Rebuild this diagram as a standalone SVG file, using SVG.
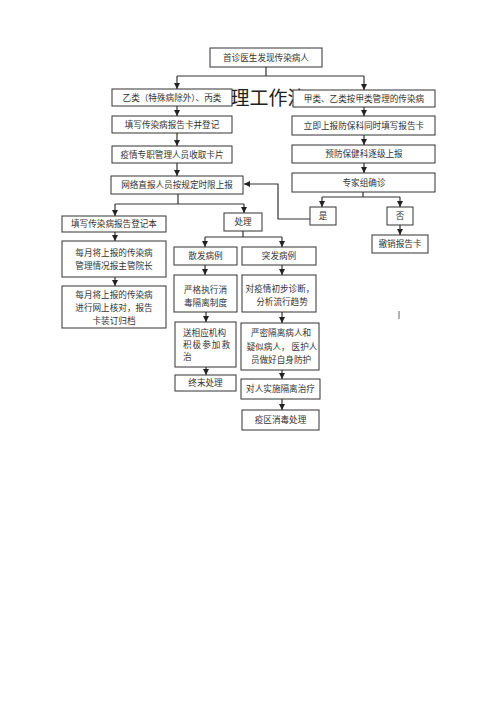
<svg xmlns="http://www.w3.org/2000/svg" width="500" height="707" viewBox="0 0 500 707">
<style>
.b{fill:#fff;stroke:#333;stroke-width:1}
.t{font-family:"Noto Sans CJK SC","Liberation Serif",sans-serif;font-size:8.6px;fill:#333;text-anchor:middle}
.l{text-anchor:start}
.c{fill:none;stroke:#333;stroke-width:1.2}
.bg{font-family:"Noto Sans CJK SC",sans-serif;font-size:19px;fill:#222}
</style>
<defs>
<marker id="a" markerUnits="userSpaceOnUse" markerWidth="6" markerHeight="6" refX="6" refY="3" orient="auto">
<path d="M0,0 L6,3 L0,6 Z" fill="#222"/>
</marker>
</defs>
<rect width="500" height="707" fill="#fff"/>
<text class="bg" x="230.5" y="105">理工作流</text>
<g id="connectors">
<path class="c" d="M266,67 V76 M177,76 H364"/>
<path class="c" d="M177,76 V89" marker-end="url(#a)"/>
<path class="c" d="M364,76 V90" marker-end="url(#a)"/>
<path class="c" d="M177,106 V116" marker-end="url(#a)"/>
<path class="c" d="M177,133 V146" marker-end="url(#a)"/>
<path class="c" d="M177,163 V176" marker-end="url(#a)"/>
<path class="c" d="M364,107 V116" marker-end="url(#a)"/>
<path class="c" d="M364,135 V145" marker-end="url(#a)"/>
<path class="c" d="M364,163 V173" marker-end="url(#a)"/>
<path class="c" d="M178,194 V204 M115,204 H244"/>
<path class="c" d="M115,204 V216" marker-end="url(#a)"/>
<path class="c" d="M244,204 V213" marker-end="url(#a)"/>
<path class="c" d="M115,232 V241" marker-end="url(#a)"/>
<path class="c" d="M115,277 V286" marker-end="url(#a)"/>
<path class="c" d="M243,231 V237 M205,237 H282"/>
<path class="c" d="M205,237 V247" marker-end="url(#a)"/>
<path class="c" d="M282,237 V247" marker-end="url(#a)"/>
<path class="c" d="M205,265 V275" marker-end="url(#a)"/>
<path class="c" d="M206,312 V322" marker-end="url(#a)"/>
<path class="c" d="M206,367 V375" marker-end="url(#a)"/>
<path class="c" d="M282,265 V275" marker-end="url(#a)"/>
<path class="c" d="M282,312 V323" marker-end="url(#a)"/>
<path class="c" d="M282,370 V379" marker-end="url(#a)"/>
<path class="c" d="M282,399 V410" marker-end="url(#a)"/>
<path class="c" d="M363,192 V197 M322,197 H400"/>
<path class="c" d="M322,197 V207" marker-end="url(#a)"/>
<path class="c" d="M400,197 V207" marker-end="url(#a)"/>
<path class="c" d="M400,225 V235" marker-end="url(#a)"/>
<path class="c" d="M310,219 H278 V184 H244" marker-end="url(#a)"/>
</g>
<g id="n-start"><rect class="b" x="210" y="48" width="112" height="19"/><text class="t" x="266" y="60.5">首诊医生发现传染病人</text></g>
<g id="n-b1"><rect class="b" x="112" y="89" width="120" height="17"/><text class="t" x="172" y="100.5">乙类（特殊病除外）、丙类</text></g>
<g id="n-b2"><rect class="b" x="112" y="116" width="120" height="17"/><text class="t" x="172" y="127.5">填写传染病报告卡并登记</text></g>
<g id="n-b3"><rect class="b" x="112" y="146" width="120" height="17"/><text class="t" x="172" y="157.5">疫情专职管理人员收取卡片</text></g>
<g id="n-b4"><rect class="b" x="111" y="176" width="132" height="18"/><text class="t" x="177" y="188">网络直报人员按规定时限上报</text></g>
<g id="n-r1"><rect class="b" x="293" y="90" width="142" height="17"/><text class="t" x="364" y="101.5">甲类、乙类按甲类管理的传染病</text></g>
<g id="n-r2"><rect class="b" x="292" y="116" width="143" height="19"/><text class="t" x="364" y="128.5">立即上报防保科同时填写报告卡</text></g>
<g id="n-r3"><rect class="b" x="292" y="145" width="143" height="18"/><text class="t" x="364" y="157">预防保健科逐级上报</text></g>
<g id="n-r4"><rect class="b" x="292" y="173" width="143" height="19"/><text class="t" x="364" y="185.5">专家组确诊</text></g>
<g id="n-yes"><rect class="b" x="310" y="207" width="26" height="18"/><text class="t" x="323" y="219">是</text></g>
<g id="n-no"><rect class="b" x="387" y="207" width="26" height="18"/><text class="t" x="400" y="219">否</text></g>
<g id="n-cancel"><rect class="b" x="372" y="235" width="56" height="18"/><text class="t" x="400" y="247">撤销报告卡</text></g>
<g id="n-l1"><rect class="b" x="62" y="216" width="104" height="16"/><text class="t" x="114" y="227">填写传染病报告登记本</text></g>
<g id="n-l2"><rect class="b" x="62" y="241" width="104" height="36"/><text class="t" x="114" y="256">每月将上报的传染病</text><text class="t" x="114" y="269">管理情况报主管院长</text></g>
<g id="n-l3"><rect class="b" x="62" y="286" width="104" height="42"/><text class="t" x="114" y="297.5">每月将上报的传染病</text><text class="t" x="114" y="311">进行网上核对，报告</text><text class="t" x="114" y="324">卡装订归档</text></g>
<g id="n-proc"><rect class="b" x="224" y="213" width="38" height="18"/><text class="t" x="243" y="225">处理</text></g>
<g id="n-s1"><rect class="b" x="174" y="247" width="63" height="18"/><text class="t" x="205.5" y="259">散发病例</text></g>
<g id="n-s2"><rect class="b" x="174" y="275" width="63" height="37"/><text class="t" x="205.5" y="293">严格执行消</text><text class="t" x="205.5" y="305.5">毒隔离制度</text></g>
<g id="n-s3"><rect class="b" x="175" y="322" width="61" height="45"/><text class="t l" x="183" y="336">送相应机构</text><text class="t l" x="183" y="348" letter-spacing="1">积极参加救</text><text class="t l" x="183" y="360">治</text></g>
<g id="n-s4"><rect class="b" x="175" y="375" width="61" height="16"/><text class="t" x="205.5" y="386">终末处理</text></g>
<g id="n-o1"><rect class="b" x="242" y="247" width="74" height="18"/><text class="t" x="279" y="259">突发病例</text></g>
<g id="n-o2"><rect class="b" x="242" y="275" width="74" height="37"/><text class="t" x="280" y="292">对疫情初步诊断，</text><text class="t" x="282" y="305">分析流行趋势</text></g>
<g id="n-o3"><rect class="b" x="241" y="323" width="78" height="47"/><text class="t" x="281" y="336">严密隔离病人和</text><text class="t" x="282" y="350">疑似病人， 医护人</text><text class="t" x="281" y="362.5">员做好自身防护</text></g>
<g id="n-o4"><rect class="b" x="241" y="379" width="79" height="20"/><text class="t" x="280.5" y="392">对人实施隔离治疗</text></g>
<g id="n-o5"><rect class="b" x="242" y="410" width="77" height="20"/><text class="t" x="280.5" y="423">疫区消毒处理</text></g>
<line x1="399" y1="311" x2="399" y2="319" stroke="#666" stroke-width="1"/>
</svg>
